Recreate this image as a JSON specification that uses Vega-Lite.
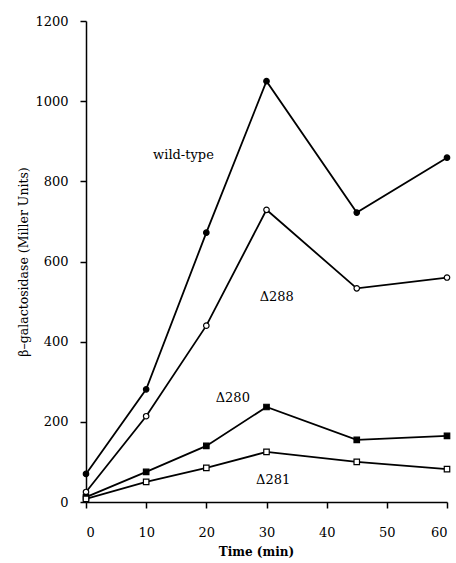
{
  "$schema": "https://vega.github.io/schema/vega-lite/v6.json",
  "width": 361,
  "height": 481,
  "autosize": {"type": "none"},
  "padding": {"left": 86, "top": 21, "right": 9, "bottom": 61},
  "background": "white",
  "config": {
    "view": {"stroke": null},
    "font": "DejaVu Serif",
    "axis": {
      "grid": false,
      "domainColor": "black",
      "tickColor": "black",
      "labelColor": "black",
      "titleColor": "black",
      "labelFont": "DejaVu Serif",
      "titleFont": "DejaVu Serif",
      "labelFontSize": 13,
      "titleFontSize": 13,
      "domainWidth": 1.5,
      "tickWidth": 1.5
    }
  },
  "datasets": {
    "series": [
      {"strain": "wild-type", "time": 0, "value": 70},
      {"strain": "wild-type", "time": 10, "value": 281},
      {"strain": "wild-type", "time": 20, "value": 672},
      {"strain": "wild-type", "time": 30, "value": 1050},
      {"strain": "wild-type", "time": 45, "value": 722},
      {"strain": "wild-type", "time": 60, "value": 859},
      {"strain": "Δ288", "time": 0, "value": 25},
      {"strain": "Δ288", "time": 10, "value": 214},
      {"strain": "Δ288", "time": 20, "value": 440},
      {"strain": "Δ288", "time": 30, "value": 729},
      {"strain": "Δ288", "time": 45, "value": 533},
      {"strain": "Δ288", "time": 60, "value": 560},
      {"strain": "Δ280", "time": 0, "value": 12},
      {"strain": "Δ280", "time": 10, "value": 75},
      {"strain": "Δ280", "time": 20, "value": 140},
      {"strain": "Δ280", "time": 30, "value": 237},
      {"strain": "Δ280", "time": 45, "value": 155},
      {"strain": "Δ280", "time": 60, "value": 165},
      {"strain": "Δ281", "time": 0, "value": 8},
      {"strain": "Δ281", "time": 10, "value": 50},
      {"strain": "Δ281", "time": 20, "value": 85},
      {"strain": "Δ281", "time": 30, "value": 125},
      {"strain": "Δ281", "time": 45, "value": 100},
      {"strain": "Δ281", "time": 60, "value": 82}
    ],
    "labels": [
      {"label": "wild-type", "time": 16.2, "value": 866},
      {"label": "Δ288", "time": 31.7, "value": 512},
      {"label": "Δ280", "time": 24.4, "value": 260},
      {"label": "Δ281", "time": 31.1, "value": 55}
    ]
  },
  "layer": [
    {
      "data": {"name": "series"},
      "mark": {"type": "line", "color": "black", "strokeWidth": 1.8},
      "encoding": {
        "x": {
          "field": "time", "type": "quantitative",
          "scale": {"domain": [0, 60]},
          "axis": {"values": [0, 10, 20, 30, 40, 50, 60], "format": "d", "tickSize": 6, "labelPadding": 18, "title": "Time (min)", "titleFontWeight": "bold", "titleFontSize": 12, "titlePadding": 7, "titleX": 170}
        },
        "y": {
          "field": "value", "type": "quantitative",
          "scale": {"domain": [0, 1200]},
          "axis": {"values": [0, 200, 400, 600, 800, 1000, 1200], "format": "d", "tickSize": 6, "labelPadding": 12, "title": "β–galactosidase  (Miller Units)", "titleFontWeight": "normal", "titleFontSize": 12.5, "titlePadding": 4}
        },
        "detail": {"field": "strain"}
      }
    },
    {
      "data": {"name": "series"},
      "mark": {"type": "point", "stroke": "black", "strokeWidth": 1.2, "opacity": 1},
      "encoding": {
        "x": {"field": "time", "type": "quantitative"},
        "y": {"field": "value", "type": "quantitative"},
        "shape": {
          "field": "strain", "type": "nominal",
          "scale": {"domain": ["wild-type", "Δ288", "Δ280", "Δ281"], "range": ["circle", "circle", "square", "square"]},
          "legend": null
        },
        "fill": {
          "field": "strain", "type": "nominal",
          "scale": {"domain": ["wild-type", "Δ288", "Δ280", "Δ281"], "range": ["black", "white", "black", "white"]},
          "legend": null
        },
        "size": {
          "field": "strain", "type": "nominal",
          "scale": {"domain": ["wild-type", "Δ288", "Δ280", "Δ281"], "range": [30, 30, 45, 45]},
          "legend": null
        }
      }
    },
    {
      "data": {"name": "labels"},
      "mark": {"type": "text", "font": "DejaVu Serif", "fontSize": 13, "color": "black"},
      "encoding": {
        "x": {"field": "time", "type": "quantitative"},
        "y": {"field": "value", "type": "quantitative"},
        "text": {"field": "label"}
      }
    }
  ]
}
